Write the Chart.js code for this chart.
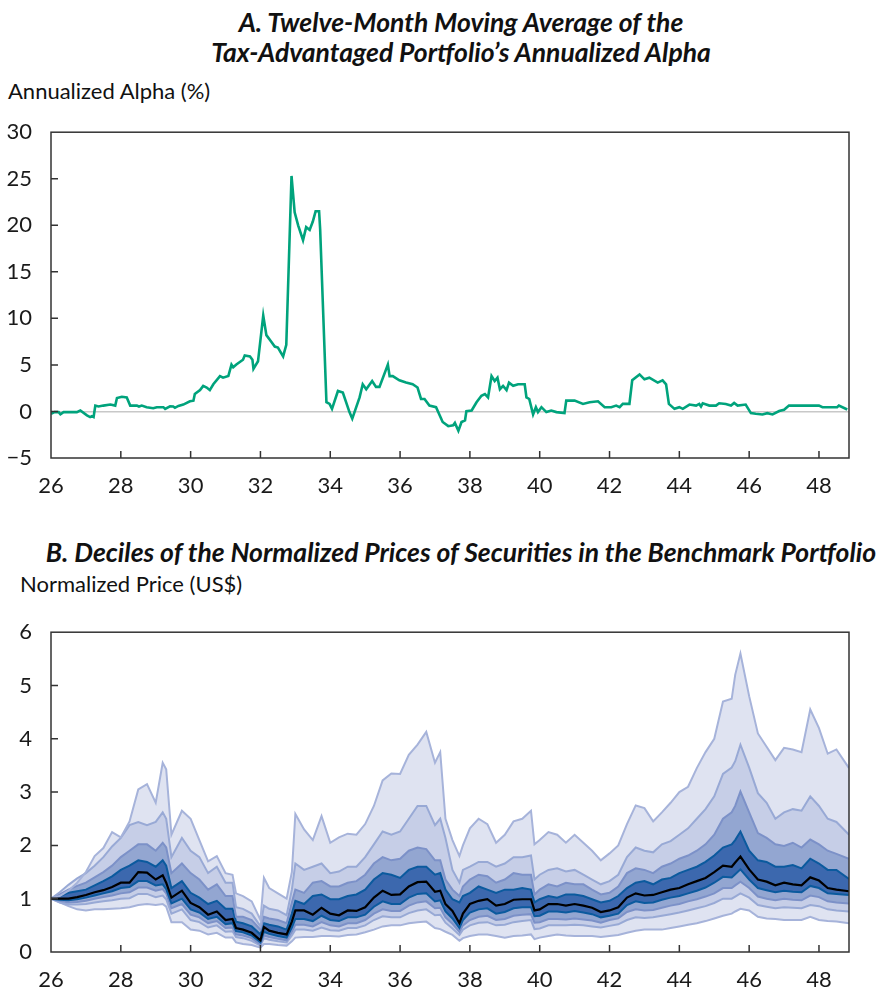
<!DOCTYPE html>
<html>
<head>
<meta charset="utf-8">
<script src="https://cdn.jsdelivr.net/npm/chart.js@4.4.1/dist/chart.umd.min.js"></script>
<style>
  body { margin: 0; background: #fff; width: 880px; height: 989px; overflow: hidden; position: relative; font-family: Lato, sans-serif; color: #111; }
  .title { position: absolute; left: 0; width: 922px; text-align: center; font-weight: 700; font-style: italic; font-size: 26.5px; line-height: 30px; }
  .axis-label { position: absolute; font-size: 22px; line-height: 26px; }
  canvas { position: absolute; left: 0; }
</style>
</head>
<body>
<div class="title" style="top:7px">A. Twelve-Month Moving Average of the<br>Tax-Advantaged Portfolio’s Annualized Alpha</div>
<div class="axis-label" style="left:8px; top:78px">Annualized Alpha (%)</div>
<canvas id="alpha-target" width="880" height="400" style="top:100px"></canvas>

<div class="title" style="top:537px">B. Deciles of the Normalized Prices of Securities in the Benchmark Portfolio</div>
<div class="axis-label" style="left:20px; top:571px">Normalized Price (US$)</div>
<canvas id="deciles-target" width="880" height="400" style="top:600px"></canvas>

<script>
// x tick labels (years) shared by both panels
const yearTicks = [26, 28, 30, 32, 34, 36, 38, 40, 42, 44, 46, 48];

// Panel A: 12-month moving average of annualized alpha (%)
const alphaYears = [
  26.0, 26.1, 26.22, 26.27, 26.36, 26.74, 26.84, 27.03, 27.12, 27.17, 27.22, 27.27, 27.36, 27.5, 27.7, 27.84, 27.89, 28.03, 28.17, 28.27,
  28.46, 28.52, 28.6, 28.74, 28.93, 29.03, 29.22, 29.27, 29.41, 29.5, 29.55, 29.65, 29.79, 29.98, 30.08, 30.12, 30.27, 30.36, 30.46, 30.55,
  30.65, 30.84, 30.93, 31.08, 31.17, 31.22, 31.31, 31.5, 31.55, 31.7, 31.77, 31.8, 31.93, 32.08, 32.17, 32.31, 32.41, 32.5, 32.65, 32.74,
  32.89, 32.98, 33.08, 33.22, 33.31, 33.41, 33.5, 33.58, 33.68, 33.71, 33.89, 33.98, 34.05, 34.22, 34.36, 34.55, 34.63, 34.84, 34.93, 35.03,
  35.2, 35.31, 35.41, 35.65, 35.7, 35.79, 35.98, 36.17, 36.36, 36.5, 36.6, 36.7, 36.84, 37.03, 37.22, 37.38, 37.52, 37.57, 37.67, 37.76,
  37.86, 37.9, 38.05, 38.19, 38.33, 38.43, 38.52, 38.62, 38.71, 38.79, 38.86, 38.95, 39.05, 39.12, 39.24, 39.38, 39.57, 39.62, 39.7, 39.81,
  39.89, 39.95, 40.05, 40.19, 40.33, 40.48, 40.71, 40.76, 41.0, 41.24, 41.43, 41.67, 41.86, 42.05, 42.19, 42.29, 42.38, 42.57, 42.65, 42.86,
  43.0, 43.14, 43.38, 43.52, 43.62, 43.7, 43.86, 44.0, 44.1, 44.29, 44.48, 44.57, 44.62, 44.67, 44.86, 45.05, 45.14, 45.33, 45.48, 45.57,
  45.67, 45.9, 46.05, 46.19, 46.38, 46.52, 46.67, 46.86, 47.0, 47.14, 48.0, 48.1, 48.52, 48.57, 48.81
];
const alphaValues = [
  -0.25, -0.07, -0.07, -0.3, -0.07, -0.07, 0.1, -0.42, -0.6, -0.5, -0.6, 0.63, 0.53, 0.63, 0.74, 0.63, 1.44, 1.58, 1.51, 0.63,
  0.63, 0.53, 0.63, 0.46, 0.35, 0.46, 0.46, 0.28, 0.56, 0.53, 0.39, 0.6, 0.74, 1.09, 1.16, 1.87, 2.29, 2.75, 2.57, 2.29,
  2.92, 3.8, 3.63, 3.8, 5.04, 4.75, 5.04, 5.56, 6.02, 5.9, 5.56, 4.58, 5.39, 10.3, 8.2, 7.5, 6.97, 6.87, 5.92, 7.15,
  25.3, 21.4, 20.0, 18.4, 19.8, 19.5, 20.4, 21.5, 21.5, 19.6, 0.99, 0.81, 0.28, 2.2, 2.04, -0.07, -0.77, 1.51, 2.92, 2.39,
  3.27, 2.64, 2.64, 5.04, 3.8, 3.8, 3.35, 3.1, 2.92, 2.57, 1.34, 1.34, 0.63, 0.46, -1.13, -1.58, -1.48, -1.23, -2.08, -1.13,
  -0.95, 0.04, 0.1, 0.99, 1.69, 1.87, 1.51, 3.8, 3.27, 3.63, 2.39, 2.75, 2.29, 3.1, 2.75, 2.92, 2.92, 1.51, 1.34, -0.32,
  0.46, -0.07, 0.46, -0.07, 0.1, -0.07, -0.18, 1.16, 1.16, 0.81, 0.99, 1.09, 0.46, 0.46, 0.63, 0.46, 0.81, 0.81, 3.35, 3.98,
  3.45, 3.63, 3.1, 3.35, 2.92, 0.81, 0.28, 0.46, 0.28, 0.74, 0.63, 0.81, 0.53, 0.88, 0.63, 0.63, 0.88, 0.81, 0.63, 0.92,
  0.63, 0.74, -0.18, -0.25, -0.32, -0.18, -0.32, 0.04, 0.18, 0.63, 0.63, 0.46, 0.46, 0.63, 0.21
];

// Panel B: deciles of normalized prices (US$)
const priceYears = [
  26.0, 26.25, 26.5, 26.75, 27.0, 27.25, 27.5, 27.75, 28.0, 28.25,
  28.5, 28.75, 29.0, 29.2, 29.3, 29.45, 29.75, 30.0, 30.25, 30.5,
  30.75, 31.0, 31.2, 31.3, 31.5, 31.75, 32.0, 32.1, 32.25, 32.5,
  32.75, 32.9, 33.0, 33.25, 33.5, 33.75, 34.0, 34.25, 34.5, 34.75,
  35.0, 35.25, 35.5, 35.75, 36.0, 36.25, 36.5, 36.75, 37.0, 37.15,
  37.3, 37.5, 37.7, 37.8, 38.0, 38.25, 38.5, 38.75, 39.0, 39.25,
  39.5, 39.75, 39.85, 40.0, 40.25, 40.5, 40.75, 41.0, 41.25, 41.5,
  41.75, 42.0, 42.25, 42.5, 42.75, 43.0, 43.25, 43.5, 43.75, 44.0,
  44.25, 44.5, 44.75, 45.0, 45.25, 45.5, 45.6, 45.75, 46.0, 46.25,
  46.5, 46.75, 47.0, 47.25, 47.5, 47.75, 48.0, 48.25, 48.5, 48.86
];
const p90 = [
  1.0, 1.05, 1.15, 1.3, 1.5, 1.8, 1.95, 2.25, 2.15, 2.45,
  3.05, 3.15, 2.8, 3.55, 3.43, 2.2, 2.65, 2.5, 2.1, 1.7,
  1.8, 1.48, 1.45, 1.1, 1.05, 0.95, 0.6, 1.39, 1.2, 1.1,
  1.0, 1.5, 2.59, 2.3, 2.1, 2.55, 2.05, 2.15, 2.22, 2.2,
  2.4, 2.74, 3.22, 3.35, 3.34, 3.7, 3.89, 4.13, 3.55, 3.75,
  2.5, 2.1, 1.8, 2.0, 2.32, 2.5, 2.4, 2.05, 2.2, 2.45,
  2.5, 2.65, 2.02, 2.1, 2.25, 2.2, 2.05, 2.2, 2.05, 1.9,
  1.72, 1.85, 2.0, 2.4, 2.75, 2.7, 2.45, 2.62, 2.8, 3.0,
  3.1, 3.45, 3.75, 4.0, 4.7, 4.75, 5.2, 5.6, 4.8, 4.1,
  3.85, 3.6, 3.83, 3.8, 3.75, 4.55, 4.2, 3.72, 3.8, 3.45
];
const p80 = [
  1.0, 1.12, 1.26, 1.38, 1.48, 1.62, 1.78, 1.98, 2.14, 2.38,
  2.44, 2.38, 2.44, 2.62, 2.5, 1.78, 2.14, 1.9, 1.78, 1.48,
  1.6, 1.3, 1.3, 0.84, 0.81, 0.72, 0.48, 0.87, 0.81, 0.78,
  0.69, 1.17, 1.66, 1.54, 1.6, 1.66, 1.48, 1.51, 1.6, 1.6,
  1.78, 2.02, 2.26, 2.2, 2.26, 2.5, 2.74, 2.74, 2.38, 2.5,
  2.14, 1.54, 1.3, 1.54, 1.6, 1.69, 1.69, 1.6, 1.66, 1.78,
  1.78, 1.81, 1.36, 1.45, 1.54, 1.57, 1.51, 1.54, 1.45, 1.36,
  1.27, 1.33, 1.45, 1.78, 1.96, 1.9, 1.87, 2.02, 2.08, 2.2,
  2.32, 2.5, 2.68, 2.92, 3.34, 3.46, 3.58, 3.89, 3.46, 2.98,
  2.8, 2.5, 2.62, 2.68, 2.65, 2.92, 2.74, 2.5, 2.44, 2.2
];
const p70 = [
  1.0, 1.08, 1.17, 1.24, 1.3, 1.4, 1.5, 1.62, 1.78, 1.9,
  2.02, 2.02, 1.9, 2.05, 1.96, 1.48, 1.66, 1.48, 1.36, 1.17,
  1.27, 1.05, 1.05, 0.66, 0.66, 0.6, 0.42, 0.66, 0.63, 0.6,
  0.54, 0.93, 1.17, 1.11, 1.3, 1.33, 1.23, 1.23, 1.3, 1.33,
  1.45, 1.66, 1.78, 1.72, 1.75, 1.9, 1.96, 1.93, 1.72, 1.72,
  1.36, 1.17, 1.05, 1.23, 1.36, 1.45, 1.42, 1.3, 1.36, 1.48,
  1.45, 1.45, 1.08, 1.17, 1.27, 1.23, 1.3, 1.27, 1.27, 1.17,
  1.08, 1.11, 1.23, 1.48, 1.57, 1.54, 1.48, 1.6, 1.66, 1.75,
  1.81, 1.9, 2.02, 2.2, 2.5, 2.62, 2.74, 3.01, 2.62, 2.23,
  2.14, 2.02, 1.99, 2.05, 1.96, 2.11, 2.02, 1.9, 1.84, 1.75
];
const p60 = [
  1.0, 1.05, 1.11, 1.14, 1.17, 1.25, 1.33, 1.42, 1.54, 1.62,
  1.72, 1.69, 1.6, 1.72, 1.62, 1.2, 1.33, 1.11, 1.02, 0.9,
  0.96, 0.81, 0.81, 0.57, 0.54, 0.48, 0.33, 0.54, 0.51, 0.48,
  0.42, 0.72, 0.96, 0.9, 1.05, 1.08, 0.99, 0.99, 1.05, 1.08,
  1.17, 1.36, 1.48, 1.45, 1.39, 1.54, 1.6, 1.6, 1.45, 1.48,
  1.17, 0.99, 0.93, 1.05, 1.11, 1.23, 1.17, 1.11, 1.17, 1.17,
  1.2, 1.17, 0.93, 0.99, 1.05, 1.02, 1.08, 1.08, 1.05, 0.99,
  0.93, 0.96, 1.05, 1.2, 1.3, 1.33, 1.27, 1.36, 1.39, 1.48,
  1.54, 1.6, 1.69, 1.81, 1.96, 2.02, 2.1, 2.26, 1.9, 1.72,
  1.69, 1.6, 1.6, 1.63, 1.57, 1.75, 1.66, 1.54, 1.54, 1.37
];
const p50 = [
  1.0, 1.0, 1.0, 1.03, 1.07, 1.12, 1.16, 1.22, 1.3, 1.3,
  1.5, 1.49, 1.36, 1.44, 1.3, 1.02, 1.15, 0.92, 0.84, 0.7,
  0.76, 0.6, 0.62, 0.45, 0.42, 0.36, 0.22, 0.47, 0.4, 0.36,
  0.33, 0.57, 0.78, 0.78, 0.7, 0.83, 0.72, 0.69, 0.78, 0.77,
  0.84, 1.02, 1.15, 1.07, 1.08, 1.23, 1.31, 1.32, 1.13, 1.15,
  0.9, 0.77, 0.54, 0.72, 0.9, 0.96, 0.99, 0.87, 0.9, 0.98,
  0.99, 0.99, 0.78, 0.8, 0.9, 0.9, 0.87, 0.9, 0.87, 0.83,
  0.75, 0.78, 0.84, 1.02, 1.1, 1.06, 1.07, 1.12, 1.17, 1.2,
  1.27, 1.33, 1.39, 1.5, 1.62, 1.6, 1.68, 1.79, 1.55, 1.36,
  1.32, 1.25, 1.3, 1.27, 1.25, 1.4, 1.34, 1.2, 1.17, 1.14
];
const p40 = [
  1.0, 0.98, 0.97, 0.99, 1.02, 1.06, 1.1, 1.14, 1.2, 1.22,
  1.33, 1.33, 1.25, 1.27, 1.18, 0.91, 1.0, 0.8, 0.74, 0.62,
  0.66, 0.52, 0.54, 0.39, 0.37, 0.31, 0.18, 0.38, 0.34, 0.3,
  0.27, 0.46, 0.62, 0.62, 0.58, 0.68, 0.6, 0.58, 0.65, 0.65,
  0.7, 0.85, 0.95, 0.9, 0.9, 1.02, 1.09, 1.1, 0.95, 0.97,
  0.76, 0.63, 0.45, 0.6, 0.74, 0.8, 0.82, 0.72, 0.75, 0.82,
  0.84, 0.84, 0.67, 0.68, 0.76, 0.76, 0.74, 0.77, 0.74, 0.71,
  0.65, 0.68, 0.72, 0.88, 0.95, 0.92, 0.93, 0.98, 1.02, 1.05,
  1.1, 1.15, 1.21, 1.3, 1.41, 1.4, 1.46, 1.55, 1.36, 1.2,
  1.16, 1.12, 1.15, 1.13, 1.12, 1.24, 1.2, 1.1, 1.09, 1.07
];
const p30 = [
  1.0, 0.96, 0.93, 0.94, 0.96, 1.0, 1.03, 1.06, 1.1, 1.12,
  1.21, 1.21, 1.15, 1.18, 1.1, 0.82, 0.9, 0.7, 0.65, 0.54,
  0.58, 0.45, 0.46, 0.33, 0.31, 0.26, 0.14, 0.31, 0.28, 0.25,
  0.22, 0.38, 0.51, 0.51, 0.48, 0.56, 0.5, 0.48, 0.54, 0.54,
  0.6, 0.72, 0.8, 0.77, 0.77, 0.87, 0.93, 0.95, 0.82, 0.83,
  0.65, 0.53, 0.38, 0.5, 0.6, 0.66, 0.68, 0.6, 0.62, 0.68,
  0.7, 0.71, 0.55, 0.56, 0.62, 0.62, 0.61, 0.63, 0.61, 0.59,
  0.55, 0.6, 0.63, 0.75, 0.8, 0.78, 0.79, 0.83, 0.87, 0.9,
  0.95, 0.99, 1.04, 1.1, 1.2, 1.2, 1.25, 1.32, 1.2, 1.04,
  1.0, 0.97, 1.0, 0.98, 0.97, 1.06, 1.03, 0.95, 0.93, 0.91
];
const p20 = [
  1.0, 0.93, 0.89, 0.89, 0.9, 0.93, 0.95, 0.97, 1.0, 1.01,
  1.09, 1.09, 1.03, 1.06, 0.99, 0.72, 0.8, 0.6, 0.56, 0.46,
  0.5, 0.38, 0.39, 0.28, 0.26, 0.21, 0.12, 0.26, 0.23, 0.2,
  0.18, 0.31, 0.42, 0.42, 0.4, 0.46, 0.41, 0.4, 0.45, 0.45,
  0.5, 0.6, 0.67, 0.65, 0.65, 0.73, 0.78, 0.8, 0.69, 0.7,
  0.55, 0.44, 0.32, 0.42, 0.5, 0.55, 0.56, 0.5, 0.51, 0.56,
  0.58, 0.6, 0.43, 0.44, 0.5, 0.5, 0.5, 0.51, 0.5, 0.48,
  0.46, 0.49, 0.52, 0.6, 0.65, 0.64, 0.65, 0.68, 0.71, 0.74,
  0.78, 0.82, 0.86, 0.92, 1.0, 1.0, 1.04, 1.1, 1.02, 0.88,
  0.85, 0.82, 0.84, 0.83, 0.82, 0.88, 0.86, 0.8, 0.78, 0.76
];
const p10 = [
  1.0, 0.93, 0.86, 0.8, 0.78, 0.8, 0.8, 0.81, 0.82, 0.84,
  0.88, 0.9, 0.88, 0.9, 0.85, 0.56, 0.56, 0.42, 0.4, 0.33,
  0.36, 0.27, 0.27, 0.18, 0.15, 0.13, 0.08, 0.15, 0.15, 0.13,
  0.12, 0.2, 0.27, 0.28, 0.28, 0.3, 0.3, 0.29, 0.32, 0.33,
  0.37, 0.42, 0.48, 0.5, 0.5, 0.54, 0.56, 0.57, 0.45, 0.43,
  0.38, 0.32, 0.21, 0.26, 0.3, 0.33, 0.33, 0.3, 0.27, 0.3,
  0.31, 0.33, 0.24, 0.27, 0.3, 0.33, 0.31, 0.3, 0.3, 0.3,
  0.28, 0.3, 0.32, 0.36, 0.4, 0.42, 0.42, 0.42, 0.45, 0.48,
  0.51, 0.54, 0.58, 0.63, 0.68, 0.72, 0.76, 0.81, 0.78, 0.66,
  0.63, 0.62, 0.6, 0.6, 0.6, 0.66, 0.6, 0.58, 0.57, 0.54
];

Chart.defaults.font.family = 'Lato';
Chart.defaults.font.size = 22;
Chart.defaults.color = '#1a1a1a';
Chart.defaults.animation = false;

// box round the plot and short ticks pointing inwards
const frame = {
    id: 'frame',
    afterDatasetsDraw(chart) {
        const { ctx, chartArea: a, scales: { x, y } } = chart;
        ctx.save();
        ctx.strokeStyle = '#333';
        ctx.lineWidth = 1.5;
        ctx.beginPath();
        x.ticks.forEach((t) => {
            const px = x.getPixelForValue(t.value);
            if (px > a.left + 2 && px < a.right - 2) {
                ctx.moveTo(px, a.bottom);
                ctx.lineTo(px, a.bottom - 7);
            }
        });
        y.ticks.forEach((t) => {
            const py = y.getPixelForValue(t.value);
            if (py > a.top + 2 && py < a.bottom - 2) {
                ctx.moveTo(a.left, py);
                ctx.lineTo(a.left + 7, py);
            }
        });
        ctx.stroke();
        ctx.strokeRect(a.left, a.top, a.right - a.left, a.bottom - a.top);
        ctx.restore();
    },
};

const xScale = (xHeight) => ({
    type: 'linear',
    min: 26,
    max: 48.86,
    border: { display: false },
    grid: { display: false, drawTicks: false },
    ticks: { padding: 15, maxRotation: 0, autoSkip: false },
    afterBuildTicks: (s) => { s.ticks = yearTicks.map((v) => ({ value: v })); },
    afterFit: (s) => { s.height = xHeight; },
});

const minus = (v) => String(v).replace('-', '\u2212');

// panel A
let target = document.getElementById('alpha-target');
let content = new Chart(target, {
    type: 'line',
    data: {
        datasets: [{
            data: alphaYears.map((x, i) => ({ x: x, y: alphaValues[i] })),
            borderColor: '#00a37c',
            borderWidth: 2.6,
            pointRadius: 0,
            tension: 0,
        }],
    },
    options: {
        responsive: false,
        layout: { padding: { top: 27, right: 31, left: 0, bottom: 0 } },
        plugins: { legend: { display: false }, tooltip: { enabled: false } },
        scales: {
            x: xScale(42),
            y: {
                min: -5,
                max: 30,
                border: { display: false },
                grid: {
                    drawTicks: false,
                    lineWidth: 1.5,
                    color: (c) => (c.tick && c.tick.value === 0 ? '#c8c8c8' : 'rgba(0,0,0,0)'),
                },
                ticks: { stepSize: 5, padding: 19, callback: minus },
                afterFit: (s) => { s.width = 51; },
            },
        },
    },
    plugins: [frame],
});

// panel B
const deciles = [p90, p80, p70, p60, p50, p40, p30, p20, p10];
const lineColors = ['#a6b3da', '#98a9d5', '#7c91c8', '#0b5a9e', '#000000', '#0b5a9e', '#7c91c8', '#98a9d5', '#a6b3da'];
const bandColors = ['#dfe3f1', '#c6cee7', '#93a6d1', '#3c68ae', '#3c68ae', '#93a6d1', '#c6cee7', '#dfe3f1', null];

target = document.getElementById('deciles-target');
content = new Chart(target, {
    type: 'line',
    data: {
        datasets: deciles.map((s, k) => ({
            data: priceYears.map((x, i) => ({ x: x, y: s[i] })),
            borderColor: lineColors[k],
            borderWidth: k === 4 ? 2.2 : 2,
            backgroundColor: bandColors[k] || 'transparent',
            fill: bandColors[k] ? '+1' : false,
            pointRadius: 0,
            tension: 0,
            order: k === 4 ? 0 : 1,
        })),
    },
    options: {
        responsive: false,
        layout: { padding: { top: 20, right: 31, left: 0, bottom: 0 } },
        plugins: {
            legend: { display: false },
            tooltip: { enabled: false },
            filler: { drawTime: 'beforeDatasetsDraw' },
        },
        scales: {
            x: xScale(48),
            y: {
                min: 0,
                max: 6,
                border: { display: false },
                grid: { display: false, drawTicks: false },
                ticks: { stepSize: 1, padding: 19 },
                afterFit: (s) => { s.width = 51; },
            },
        },
    },
    plugins: [frame],
});
</script>
</body>
</html>
